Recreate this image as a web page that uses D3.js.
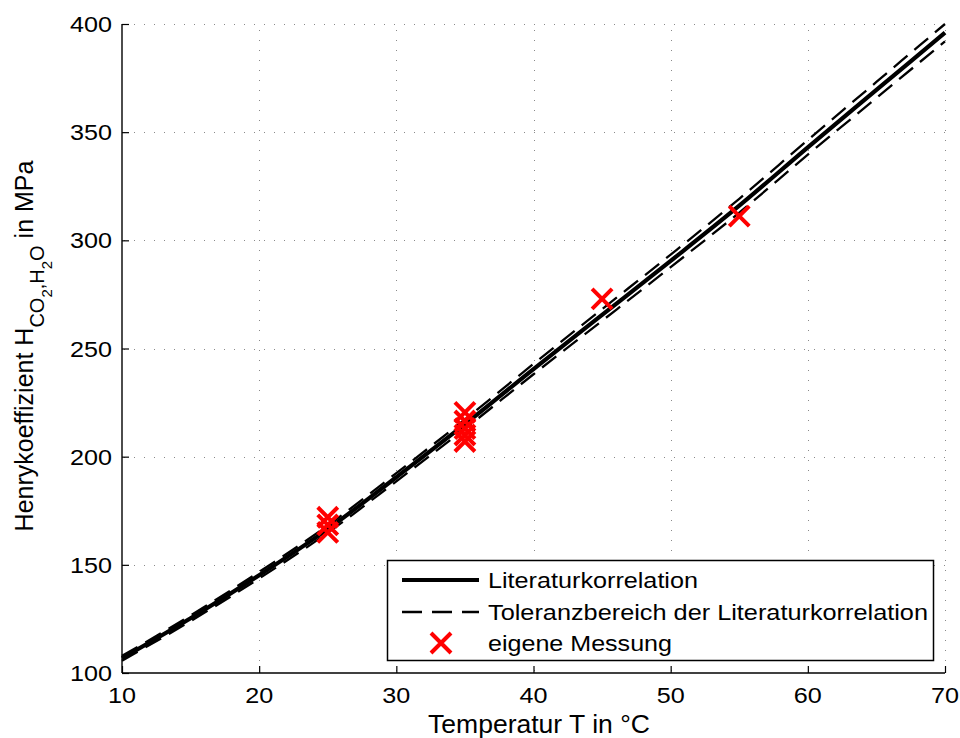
<!DOCTYPE html>
<html>
<head>
<meta charset="utf-8">
<script src="https://cdn.jsdelivr.net/npm/d3@7"></script>
<style>
  html, body { margin: 0; padding: 0; background: #fff; }
  svg { display: block; font-family: "Liberation Sans", Arial, Helvetica, sans-serif; }
</style>
</head>
<body>
<svg id="chart" width="960" height="738"></svg>
<script>
// ---- data ----
const temps = [10, 15, 20, 25, 30, 35, 40, 45, 50, 55, 60, 65, 70];
const literatur = [106.8, 125.3, 145.2, 166.5, 190.5, 215, 240.5, 265.5, 290.5, 316, 343, 369.5, 396];
const toleranzOben = [107.9, 126.6, 146.7, 168.2, 192.4, 217.2, 242.9, 268.2, 293.4, 319.2, 346.4, 373.2, 400];
const toleranzUnten = [105.7, 124.0, 143.7, 164.8, 188.6, 212.9, 238.1, 262.8, 287.6, 312.8, 339.6, 365.8, 392];
const messT = [25, 25, 25, 35, 35, 35, 35, 35, 45, 55];
const messH = [172, 168.5, 165, 220.5, 216.5, 213, 210, 207, 272.9, 311.2];
const xTicks = [10, 20, 30, 40, 50, 60, 70];
const yTicks = [100, 150, 200, 250, 300, 350, 400];
const legendLabels = ["Literaturkorrelation", "Toleranzbereich der Literaturkorrelation", "eigene Messung"];

// ---- layout ----
const L = 122, R = 945, T = 24, B = 673;
const svg = d3.select("#chart");
const x = d3.scaleLinear().domain([10, 70]).range([L, R]);
const y = d3.scaleLinear().domain([100, 400]).range([B, T]);

// grid
const grid = svg.append("g").attr("stroke", "#8a8a8a").attr("stroke-width", 1)
  .attr("stroke-dasharray", "1,9");
grid.selectAll("line.h").data(yTicks.filter(d => d > 100)).join("line")
  .attr("x1", L + 2).attr("x2", R).attr("y1", d => Math.round(y(d)) + 0.5).attr("y2", d => Math.round(y(d)) + 0.5);
grid.selectAll("line.v").data(xTicks.filter(d => d > 10)).join("line")
  .attr("y1", B - 2).attr("y2", T).attr("x1", d => Math.round(x(d)) + 0.5).attr("x2", d => Math.round(x(d)) + 0.5);

// axes (inward ticks)
const xAxis = d3.axisTop(x).tickValues(xTicks).tickSize(7).tickFormat("");
const yAxis = d3.axisRight(y).tickValues(yTicks).tickSize(7).tickFormat("");
const gx = svg.append("g").attr("transform", `translate(0,${B})`).call(xAxis);
const gy = svg.append("g").attr("transform", `translate(${L},0)`).call(yAxis);
[gx, gy].forEach(g => {
  g.select(".domain").attr("stroke", "#000").attr("stroke-width", 1.4);
  g.selectAll(".tick line").attr("stroke", "#000").attr("stroke-width", 1.2);
});
gx.select(".domain").attr("d", `M${L},0H${R}`);
gy.select(".domain").attr("d", `M0,${B}V${T}`);

// tick labels (slightly wide glyphs)
svg.append("g").selectAll("text").data(xTicks).join("text")
  .attr("transform", d => `translate(${x(d)},703) scale(1.12,1)`)
  .attr("text-anchor", "middle").attr("font-size", 22.5).attr("fill", "#000")
  .text(d => d);
svg.append("g").selectAll("text").data(yTicks).join("text")
  .attr("transform", d => `translate(112,${y(d) + 8}) scale(1.12,1)`)
  .attr("text-anchor", "end").attr("font-size", 22.5).attr("fill", "#000")
  .text(d => d);

// axis labels
svg.append("text").attr("x", 539).attr("y", 733).attr("text-anchor", "middle")
  .attr("font-size", 25).attr("fill", "#000").attr("textLength", 222).attr("lengthAdjust", "spacingAndGlyphs")
  .text("Temperatur T in °C");

const yl = svg.append("text").attr("transform", "translate(33,346) rotate(-90)")
  .attr("text-anchor", "middle").attr("font-size", 25).attr("fill", "#000");
yl.append("tspan").text("Henrykoeffizient H");
yl.append("tspan").attr("font-size", 20).attr("dy", 11).text("CO");
yl.append("tspan").attr("font-size", 15).attr("dy", 8).text("2");
yl.append("tspan").attr("font-size", 20).attr("dy", -8).text(",H");
yl.append("tspan").attr("font-size", 15).attr("dy", 8).text("2");
yl.append("tspan").attr("font-size", 20).attr("dy", -8).text("O");
yl.append("tspan").attr("dy", -11).text(" in MPa");

// lines
const line = d3.line().x(d => x(d[0])).y(d => y(d[1])).curve(d3.curveMonotoneX);
const plot = svg.append("g");
plot.append("path").datum(temps.map((t, i) => [t, literatur[i]]))
  .attr("d", line).attr("fill", "none").attr("stroke", "#000").attr("stroke-width", 4.2);
[toleranzOben, toleranzUnten].forEach(arr => {
  plot.append("path").datum(temps.map((t, i) => [t, arr[i]]))
    .attr("d", line).attr("fill", "none").attr("stroke", "#000").attr("stroke-width", 2.3)
    .attr("stroke-dasharray", "18,9");
});

// markers
const cross = (g, cx, cy, s) => {
  g.append("path").attr("d", `M${cx - s},${cy - s}L${cx + s},${cy + s}M${cx - s},${cy + s}L${cx + s},${cy - s}`)
    .attr("stroke", "#ff0000").attr("stroke-width", 4).attr("fill", "none");
};
const mg = svg.append("g");
messT.forEach((t, i) => cross(mg, x(t), y(messH[i]), 10));

// legend
const lg = svg.append("g");
lg.append("rect").attr("x", 387.5).attr("y", 560.5).attr("width", 546).attr("height", 100)
  .attr("fill", "#fff").attr("stroke", "#000").attr("stroke-width", 1.5);
const rows = [580, 612, 643];
lg.append("line").attr("x1", 402).attr("x2", 479).attr("y1", rows[0]).attr("y2", rows[0])
  .attr("stroke", "#000").attr("stroke-width", 4.2);
lg.append("line").attr("x1", 402).attr("x2", 479).attr("y1", rows[1]).attr("y2", rows[1])
  .attr("stroke", "#000").attr("stroke-width", 2.3).attr("stroke-dasharray", "20,10");
cross(lg, 441, rows[2], 10);
const widths = [210, 440, 184];
legendLabels.forEach((txt, i) => {
  lg.append("text").attr("x", 488).attr("y", rows[i] + 8).attr("font-size", 22)
    .attr("textLength", widths[i]).attr("lengthAdjust", "spacingAndGlyphs")
    .attr("fill", "#000").text(txt);
});
</script>
</body>
</html>
